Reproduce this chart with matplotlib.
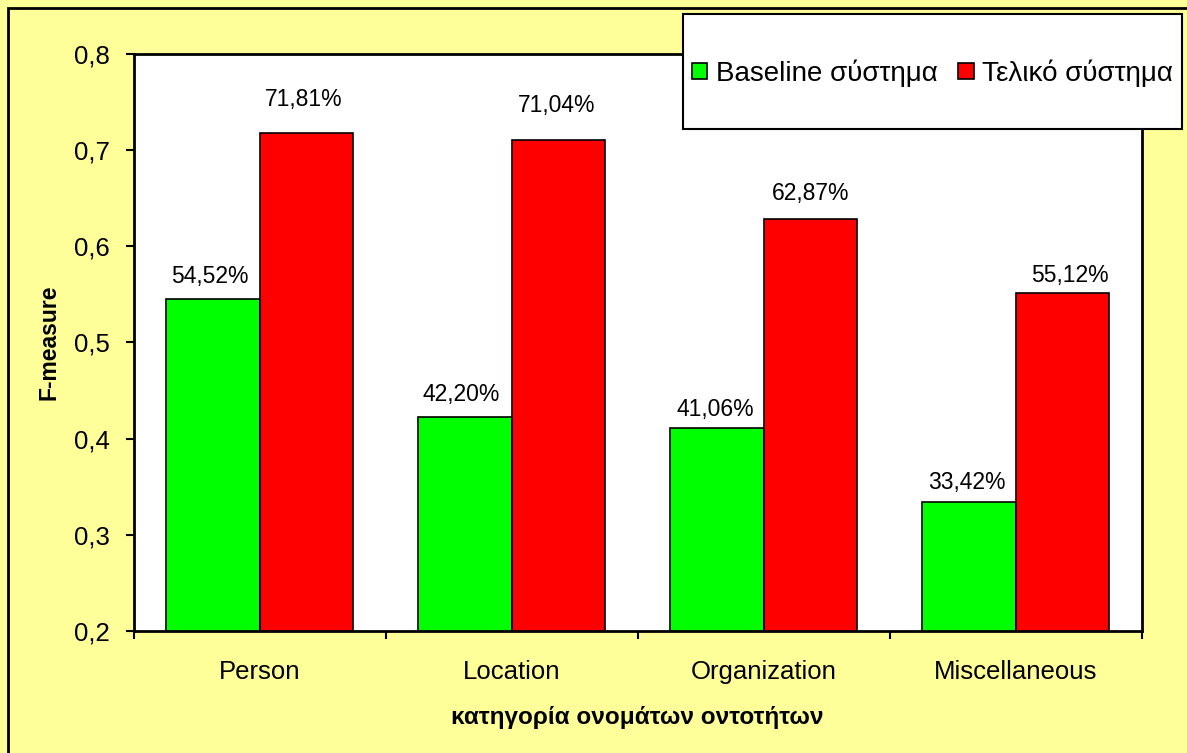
import numpy as np
import matplotlib.pyplot as plt
from matplotlib.patches import Rectangle

categories = ['Person', 'Location', 'Organization', 'Miscellaneous']
baseline = [0.5452, 0.4220, 0.4106, 0.3342]
final = [0.7181, 0.7104, 0.6287, 0.5512]
series_names = ['Baseline σύστημα', 'Τελικό σύστημα']
colors = ['#00FF00', '#FF0000']
yticks = [0.2, 0.3, 0.4, 0.5, 0.6, 0.7, 0.8]

# data labels were hand-placed in the original: gap (px) above each bar, x shift (px)
label_gap = [[16, 16, 12, 13], [27, 28, 19, 11]]
label_dx = [[-3, -4, -2, -2], [-3, -2, 0, 7]]

plt.rcParams['font.family'] = ['Liberation Sans', 'DejaVu Sans']

W, H = 1187, 753
fig = plt.figure(figsize=(W / 100, H / 100), dpi=100)
fig.patch.set_facecolor('#FFFF99')

# outer chart border (cut off at the right/bottom like the original)
fig.patches.append(Rectangle((8 / W, -0.1), 1.2, 1 - 8 / H + 0.1,
                             transform=fig.transFigure, fill=False,
                             edgecolor='black', linewidth=2))

ax = fig.add_axes([133.5 / W, 1 - 631 / H, (1141.7 - 133.5) / W, (631 - 53.7) / H])
ax.set_facecolor('white')

x = np.arange(len(categories)) + 0.5
w = 0.371
b1 = ax.bar(x - w / 2, baseline, w, bottom=0, color=colors[0], edgecolor='black',
            linewidth=1.2, label=series_names[0])
b2 = ax.bar(x + w / 2, final, w, bottom=0, color=colors[1], edgecolor='black',
            linewidth=1.2, label=series_names[1])

for k, (bars, vals) in enumerate(((b1, baseline), (b2, final))):
    for i, (r, v) in enumerate(zip(bars, vals)):
        txt = f'{v * 100:.2f}%'.replace('.', ',')
        ax.annotate(txt, (r.get_x() + r.get_width() / 2, v),
                    xytext=(label_dx[k][i] * 0.72, label_gap[k][i] * 0.72),
                    textcoords='offset points', ha='center', va='baseline', fontsize=16.5)

ax.set_ylim(0.2, 0.8)
ax.set_xlim(0, len(categories))
ax.set_yticks(yticks)
ax.set_yticklabels([f'{t:.1f}'.replace('.', ',') for t in yticks], fontsize=18.5)
ax.set_xticks(np.arange(len(categories) + 1))
ax.set_xticklabels([])
ax.set_xticks(x, minor=True)
ax.set_xticklabels(categories, minor=True, fontsize=18.5)
ax.tick_params(axis='x', which='minor', length=0, pad=21)
ax.tick_params(axis='both', which='major', direction='out', length=6, width=1.5)
ax.tick_params(axis='y', pad=11)
for s in ax.spines.values():
    s.set_linewidth(2)

ax.set_xlabel('κατηγορία ονομάτων οντοτήτων', fontsize=17.5, fontweight='bold', labelpad=16)
ax.set_ylabel('F-measure', fontsize=16.5, fontweight='bold', labelpad=10)

# legend box
fig.patches.append(Rectangle((683 / W, 1 - 129 / H), (1182 - 683) / W, (129 - 14) / H,
                             transform=fig.transFigure, facecolor='white',
                             edgecolor='black', linewidth=1.5, zorder=5))
leg = fig.legend(loc='center', bbox_to_anchor=((683 + 1182) / 2 / W, 1 - 73 / H),
                 ncol=2, frameon=False, fontsize=20, handlelength=0.55,
                 handleheight=0.55, handletextpad=0.3, columnspacing=0.75)
leg.set_zorder(6)

fig.savefig('out.png', dpi=100, facecolor=fig.get_facecolor())
